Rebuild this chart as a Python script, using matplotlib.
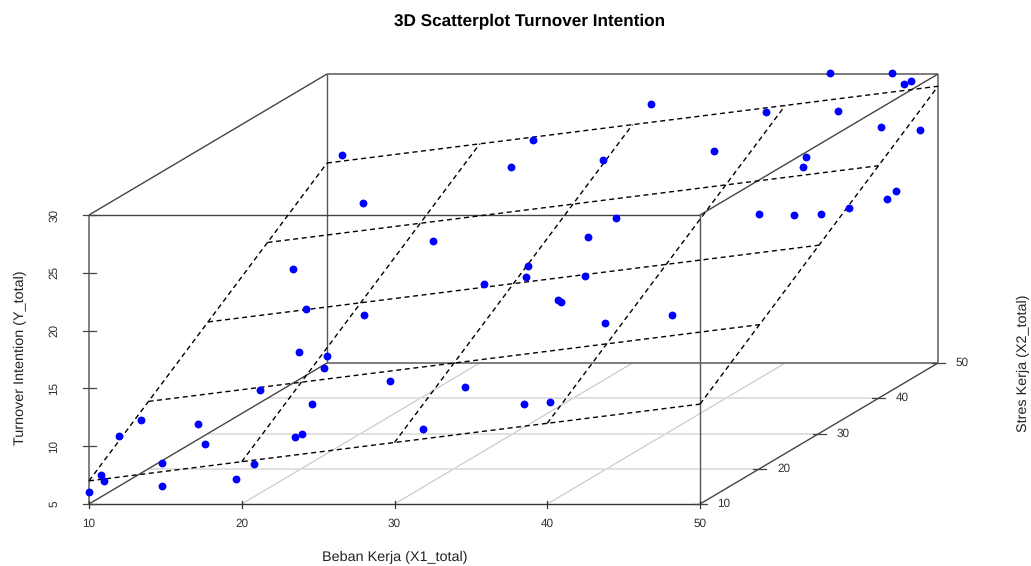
"""
3D Scatterplot Turnover Intention (scatterplot3d style, drawn on a 2D axes)
"""

import numpy as np
import matplotlib
matplotlib.use('Agg')
import matplotlib.pyplot as plt

plt.rcParams['font.family'] = ['Liberation Sans', 'DejaVu Sans']
plt.rcParams['text.hinting'] = 'none'

# Values
beban_kerja = [10.0, 10.4, 11.0, 10.0, 10.3, 14.4, 14.8, 14.8, 16.4, 19.6,
               20.8, 17.3, 13.2, 16.4, 18.3, 22.7, 22.8, 21.9, 20.7, 20.5,
               11.0, 14.7, 21.0, 26.2, 31.5, 22.0, 32.3, 28.1, 23.6, 37.3,
               30.4, 30.2, 23.5, 39.0, 34.1, 34.3, 34.7, 32.9, 29.6, 38.7,
               34.0, 31.2, 43.1, 37.3, 44.1, 39.1, 46.4, 44.7, 44.5, 48.6,
               42.9, 44.2, 50.0, 48.2, 49.8, 47.0, 50.0, 47.8, 48.2, 49.6]
stres_kerja = [10, 11, 10, 15, 18, 11, 10, 16, 13, 10,
               10, 20, 36, 30, 24, 12, 13, 17, 22, 23,
               50, 44, 28, 19, 11, 37, 16, 30, 46, 13,
               31, 32, 50, 13, 27, 27, 30, 35, 46, 23,
               37, 50, 23, 45, 35, 49, 35, 41, 42, 34,
               50, 48, 35, 45, 42, 50, 43, 50, 50, 48]
turnover = [6.0, 7.2, 7.0, 9.4, 9.8, 8.2, 6.6, 10.1, 9.3, 7.2,
            8.5, 11.8, 17.4, 15.8, 13.9, 10.2, 10.1, 11.5, 13.1, 13.8,
            23.0, 20.7, 15.9, 12.9, 11.2, 19.5, 13.3, 17.9, 23.2, 12.7,
            18.2, 18.9, 24.3, 12.9, 17.5, 17.3, 18.6, 20.5, 23.8, 16.7,
            21.5, 27.4, 17.4, 24.9, 22.5, 27.0, 22.4, 24.7, 25.3, 22.8,
            30.1, 27.4, 23.0, 26.9, 21.6, 30.1, 22.0, 29.1, 29.4, 25.8]

x_ticks = [10, 20, 30, 40, 50]
y_ticks = [10, 20, 30, 40, 50]
z_ticks = [5, 10, 15, 20, 25, 30]

# Fitted plane: z = b0 + b1*(x-10) + b2*(y-10)
plane_coef = [7.0, 0.166, 0.3825]


def project(x, y, z):
    # oblique projection like scatterplot3d, result in figure pixels
    x, y, z = np.asarray(x, float), np.asarray(y, float), np.asarray(z, float)
    px = 89 + (x - 10) * 15.275 + (y - 10) * 5.95
    py = 504 - (z - 5) * 11.56 - (y - 10) * 3.525
    return px, py


def seg(ax, p0, p1, **kw):
    a = project(*p0)
    b = project(*p1)
    ax.plot([a[0], b[0]], [a[1], b[1]], solid_capstyle='butt', **kw)


fig = plt.figure(figsize=(10.31, 5.66), dpi=100)
ax = fig.add_axes([0, 0, 1, 1])
ax.set_xlim(0, 1031)
ax.set_ylim(566, 0)
ax.axis('off')

# floor grid
for v in x_ticks[1:-1]:
    seg(ax, (v, 10, 5), (v, 50, 5), color='#cccccc', lw=0.9)
for v in y_ticks[1:-1]:
    seg(ax, (10, v, 5), (50, v, 5), color='#dddddd', lw=1.3)

# box
grey = dict(color='#777777', lw=1.3)
dark = dict(color='#444444', lw=1.0)
seg(ax, (10, 10, 5), (10, 10, 30), **grey)
seg(ax, (50, 10, 5), (50, 10, 30), color='#555555', lw=1.0)
seg(ax, (10, 50, 5), (10, 50, 30), color='#555555', lw=1.0)
seg(ax, (50, 50, 5), (50, 50, 30), **grey)
seg(ax, (10, 10, 30), (50, 10, 30), **dark)
seg(ax, (10, 50, 30), (50, 50, 30), color='#666666', lw=1.2)
seg(ax, (10, 50, 5), (50, 50, 5), color='#666666', lw=1.2)
seg(ax, (10, 10, 5), (50, 10, 5), color='#333333', lw=1.0)
for xv in (10, 50):
    seg(ax, (xv, 10, 5), (xv, 50, 5), **dark)
    seg(ax, (xv, 10, 30), (xv, 50, 30), **dark)

# ticks and tick labels
for v in z_ticks:
    px, py = project(10, 10, v)
    ax.plot([px - 6.5, px + 6.5], [py, py], color='#444444', lw=0.9)
    ax.text(px - 35, py, str(v), rotation=90, ha='center', va='center',
            fontsize=8.5, color='#333333')
for v in x_ticks:
    px, py = project(v, 10, 5)
    ax.plot([px, px], [py - 3, py + 4], color='#333333', lw=0.9)
    ax.text(px, py + 19.5, str(v), ha='center', va='center', fontsize=8.5, color='#333333')
for v in y_ticks:
    px, py = project(50, v, 5)
    ax.plot([px - 6.5, px + 6.5], [py, py], color='#444444', lw=0.9)
    ax.text(px + 24, py, str(v), ha='center', va='center', fontsize=8.5, color='#333333')

# regression plane
dash = dict(color='black', lw=1.0, ls=(0, (3.6, 2.6)))
for v in y_ticks:
    z0 = plane_coef[0] + plane_coef[2] * (v - 10)
    seg(ax, (10, v, z0), (50, v, z0 + plane_coef[1] * 40), **dash)
for v in x_ticks:
    z0 = plane_coef[0] + plane_coef[1] * (v - 10)
    seg(ax, (v, 10, z0), (v, 50, z0 + plane_coef[2] * 40), **dash)

# points
px, py = project(beban_kerja, stres_kerja, turnover)
ax.scatter(px, py, s=32, color='#0000ff', linewidths=0, zorder=5, clip_on=False)

# labels
ax.text(530, 21, '3D Scatterplot Turnover Intention', ha='center', va='center',
        fontsize=12.3, fontweight='bold', color='black')
ax.text(395, 557.5, 'Beban Kerja (X1_total)', ha='center', va='center',
        fontsize=10.4, color='#222222')
ax.text(20, 358, 'Turnover Intention (Y_total)', rotation=90, ha='center',
        va='center', fontsize=10.4, color='#222222')
ax.text(1023, 363, 'Stres Kerja (X2_total)', rotation=90, ha='center',
        va='center', fontsize=10.4, color='#222222')

fig.savefig('out.png', dpi=100)
